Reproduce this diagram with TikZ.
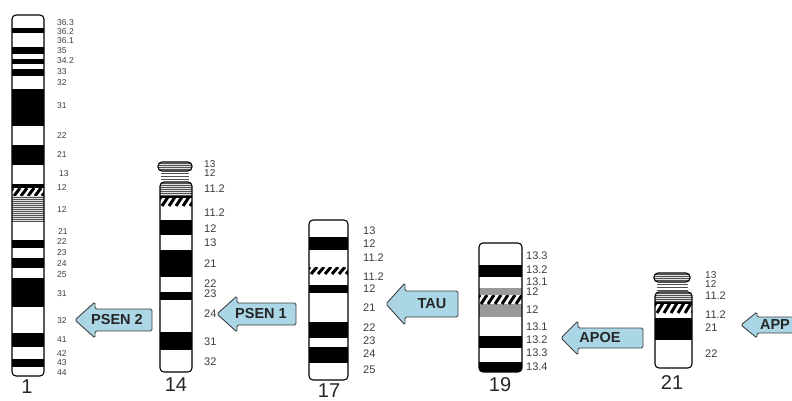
\documentclass[tikz,border=0pt]{standalone}
\usepackage{fontspec}
\setmainfont{Liberation Sans}
\definecolor{arrowblue}{RGB}{170,214,229}
\definecolor{lbltext}{RGB}{60,60,60}

% slanted black strokes across a band (centromere)
\newcommand{\hatchband}[4]{%
  \begin{scope}
    \clip (#1,#2) rectangle (#3,#4);
    \fill[white] (#1,#2) rectangle (#3,#4);
    \foreach \hx in {-12,-5,...,50}
      \draw[hatchline] ({#1+\hx},#4) -- ({#1+\hx+6},#2);
  \end{scope}}

% thin horizontal grey lines (stalk / heterochromatin)
\newcommand{\stripeband}[4]{%
  \begin{scope}
    \clip (#1,#2) rectangle (#3,#4);
    \fill[black!12] (#1,#2) rectangle (#3,#4);
    \foreach \so in {1,3,...,41}
      \draw[stripeline] (#1,{#2+\so}) -- (#3,{#2+\so});
  \end{scope}}

% gene marker: left-pointing block arrow with its label
\newcommand{\genearrow}[9]{%
  \draw[genebox] (#2,#3) -- (#5,{#3-#4}) -- (#5,{#3-#6}) -- (#7,{#3-#6})
    -- (#7,{#3+#6}) -- (#5,{#3+#6}) -- (#5,{#3+#4}) -- cycle;
  \node[genelbl] (#1) at (#9,#3) {#8};}

\begin{document}
\begin{tikzpicture}[x=1pt,y=-1pt,
  outline/.style={draw=black, line width=1.1pt, rounded corners=4pt},
  darkband/.style={fill=black},
  greyband/.style={fill=black!40},
  hatchline/.style={line width=3pt, black},
  stripeline/.style={draw=black!68, line width=1pt},
  bandlbl/.style={anchor=west, inner sep=0pt, text=lbltext, font=\fontsize{11}{11}\selectfont},
  tightlbl/.style={bandlbl, font=\fontsize{10}{10}\selectfont},
  smalllbl/.style={bandlbl, font=\fontsize{8.5}{8.5}\selectfont},
  chromnum/.style={inner sep=0pt, text=black!85, font=\fontsize{20}{20}\selectfont},
  genebox/.style={fill=arrowblue, draw=black!75, line width=0.9pt, rounded corners=1.5pt},
  genelbl/.style={inner sep=0pt, text=black!85, font=\bfseries\fontsize{14.5}{14.5}\selectfont}
]
\useasboundingbox (0,0) rectangle (792,401);

% ---------- chromosome 1 ----------
\begin{scope}
  \clip[rounded corners=4pt] (12,15) rectangle (44,376);
  \fill[white] (12,15) rectangle (44,376);
  \foreach \a/\b in {28/33,47/54,59/64,69/76,89/126,145/165,184/188,
                     240/248,258/268,278/307,333/347,359/367}
    \fill[darkband] (12,\a) rectangle (44,\b);
  \hatchband{12}{188}{44}{196}
  \stripeband{12}{196}{44}{222}
\end{scope}
\draw[outline] (12,15) rectangle (44,376);
\foreach \t/\y [count=\i] in {36.3/23,36.2/32,36.1/41,35/51,34.2/61,33/72,32/83,
    31/106,22/136,21/155,12/188,12/210,22/242,23/253,24/264,25/275,
    31/294,32/321,41/340,42/354,43/363,44/373}
  \node[smalllbl] (c1b\i) at (57,\y) {\t};
\node[smalllbl] (c1p13) at (59,174) {13};
\node[smalllbl] (c1q21) at (58,232) {21};
\node[chromnum] (c1) at (27,387) {1};

% ---------- chromosome 14 ----------
\begin{scope}
  \clip[rounded corners=4pt] (158,162) rectangle (192,171);
  \stripeband{158}{162}{192}{171}
\end{scope}
\draw[outline] (158,162) rectangle (192,171);
\foreach \sy in {173.5,176.5,179.5}
  \draw[stripeline] (161,\sy) -- (189,\sy);
\begin{scope}
  \clip[rounded corners=4pt] (160,182) rectangle (192,372);
  \fill[white] (160,182) rectangle (192,372);
  \stripeband{160}{182}{192}{197}
  \hatchband{160}{197}{192}{206}
  \foreach \a/\b in {220/235,250/277,292/300,332/350}
    \fill[darkband] (160,\a) rectangle (192,\b);
\end{scope}
\draw[outline] (160,182) rectangle (192,372);
\draw[line width=1.1pt] (160,197) -- (192,197);
\node[tightlbl] (c14p13) at (204,164) {13};
\node[tightlbl] (c14p12) at (204,173) {12};
\foreach \t/\y [count=\i] in {11.2/189,11.2/213,12/229,13/243,
    21/264,22/284,23/294,24/314,31/342,32/362}
  \node[bandlbl] (c14b\i) at (204,\y) {\t};
\node[chromnum] (c14) at (176,385) {14};

% ---------- chromosome 17 ----------
\begin{scope}
  \clip[rounded corners=4pt] (309,220) rectangle (348,380);
  \fill[white] (309,220) rectangle (348,380);
  \foreach \a/\b in {237/250,285/293,322/338,347/363}
    \fill[darkband] (309,\a) rectangle (348,\b);
  \hatchband{309}{267}{348}{274}
\end{scope}
\draw[outline] (309,220) rectangle (348,380);
\foreach \t/\y [count=\i] in {13/231,12/244,11.2/258,11.2/277,12/289,21/308,
    22/328,23/341,24/354,25/370}
  \node[bandlbl] (c17b\i) at (363,\y) {\t};
\node[chromnum] (c17) at (329,391) {17};

% ---------- chromosome 19 ----------
\begin{scope}
  \clip[rounded corners=4pt] (479,243) rectangle (522,372);
  \fill[white] (479,243) rectangle (522,372);
  \foreach \a/\b in {265/277,336/348,362/372}
    \fill[darkband] (479,\a) rectangle (522,\b);
  \foreach \a/\b in {288/295,304/317}
    \fill[greyband] (479,\a) rectangle (522,\b);
  \hatchband{479}{295}{522}{304}
\end{scope}
\draw[outline] (479,243) rectangle (522,372);
\foreach \t/\y [count=\i] in {13.3/256,13.2/270,13.1/282,12/292,12/310,
    13.1/327,13.2/340,13.3/353,13.4/367}
  \node[bandlbl] (c19b\i) at (526,\y) {\t};
\node[chromnum] (c19) at (500,385) {19};

% ---------- chromosome 21 ----------
\begin{scope}
  \clip[rounded corners=4pt] (654,273) rectangle (690,282);
  \stripeband{654}{273}{690}{282}
\end{scope}
\draw[outline] (654,273) rectangle (690,282);
\foreach \sy in {284.5,287.5,290}
  \draw[stripeline] (657,\sy) -- (688,\sy);
\begin{scope}
  \clip[rounded corners=4pt] (655,292) rectangle (692,368);
  \fill[white] (655,292) rectangle (692,368);
  \stripeband{655}{292}{692}{303}
  \hatchband{655}{303}{692}{313}
  \fill[darkband] (655,318) rectangle (692,340);
\end{scope}
\draw[outline] (655,292) rectangle (692,368);
\draw[line width=1.1pt] (655,303) -- (692,303);
\node[tightlbl] (c21p13) at (705,275) {13};
\node[tightlbl] (c21p12) at (705,284) {12};
\foreach \t/\y [count=\i] in {11.2/296,11.2/315,21/328,22/354}
  \node[bandlbl] (c21b\i) at (705,\y) {\t};
\node[chromnum] (c21) at (672,383) {21};

% ---------- gene markers ----------
\genearrow{psen2}{75}{320}{18}{95}{11}{152}{PSEN 2}{117}
\genearrow{psen1}{217}{314}{18}{237}{11}{296}{PSEN 1}{261}
\genearrow{tau}{386}{304}{21}{405}{13}{458}{TAU}{432}
\genearrow{apoe}{561}{338}{17}{578}{10}{643}{APOE}{600}
\genearrow{app}{741}{325}{13}{757}{8}{800}{APP}{775}
\end{tikzpicture}
\end{document}
